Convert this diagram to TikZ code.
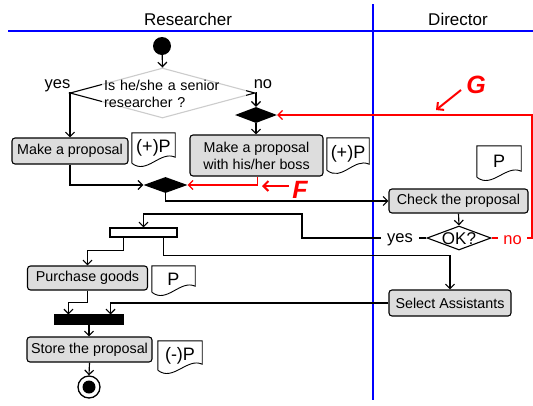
\documentclass[tikz,border=0pt]{standalone}
\usepackage{fontspec}
\setmainfont{Liberation Sans}
\usetikzlibrary{arrows.meta,shapes.geometric,calc}
\definecolor{boxgray}{RGB}{221,221,221}
\definecolor{pureblue}{RGB}{0,0,255}
\definecolor{purered}{RGB}{255,0,0}
\tikzset{
 conn/.style={line width=1.15pt, -{Straight Barb[length=4.5pt,width=9pt]}},
 plainline/.style={line width=1.15pt},
 redconn/.style={line width=1.15pt, draw=purered, -{Straight Barb[length=4.5pt,width=9pt]}},
 redline/.style={line width=1.15pt, draw=purered},
 notearrow/.style={line width=2pt, draw=purered, -{Straight Barb[length=5pt,width=10pt]}},
 act/.style={draw, line width=1.1pt, fill=boxgray, rounded corners=3pt, inner sep=0pt, font=\fontsize{14.3}{17}\selectfont, align=center},
 docnode/.style={inner sep=0pt, font=\fontsize{18}{20}\selectfont},
 docline/.style={draw, line width=0.9pt},
 lab/.style={font=\fontsize{16.5}{18}\selectfont},
 head/.style={font=\fontsize{17}{19}\selectfont},
 big/.style={font=\fontsize{25}{28}\selectfont\bfseries\itshape, text=purered},
 lane/.style={draw=pureblue, line width=2pt},
 blackdia/.style={diamond, fill=black, inner sep=0pt},
 bar/.style={draw, line width=1.1pt, inner sep=0pt},
}
\newcommand\drawdocshape[1]{%
 \draw[docline] (#1.south west) -- (#1.north west) -- (#1.north east) -- ($(#1.south east)+(0,-6)$)
  .. controls ($(#1.south east)+(-15,-13)$) and ($(#1.south west)+(15,12)$) .. (#1.south west);}
\begin{document}
\begin{tikzpicture}[x=1pt,y=-1pt]
\useasboundingbox (0,0) rectangle (533,405);
% lanes
\draw[lane] (8,31) -- (533,31);
\draw[lane] (373,4) -- (373,400);
\node[head, anchor=base] (hr) at (188,25) {Researcher};
\node[head, anchor=base] (hd) at (458,25) {Director};

% start
\node[circle, fill=black, minimum size=18, inner sep=0pt] (start) at (162,46) {};
% decision
\node[diamond, draw, line width=1.1pt, minimum width=185, minimum height=50, inner sep=0pt] (dec) at (162.5,93) {};
\node[anchor=west, fill=white, fill opacity=0.8, text opacity=1, text width=140, align=left, inner sep=2pt, minimum height=52, font=\fontsize{14.3}{17.5}\selectfont] (dectext) at (102,94) {Is he/she a senior\\researcher ?};
\node[lab, anchor=base] (yes1) at (57.5,88) {yes};
\node[lab, anchor=base] (no1) at (263,88) {no};

% merge diamonds
\node[blackdia, minimum width=42, minimum height=16] (m1) at (256,115) {};
\node[blackdia, minimum width=44, minimum height=16] (m2) at (165.5,185) {};

% activities
\node[act, minimum width=116, minimum height=26] (b1) at (70,151) {Make a proposal};
\node[act, minimum width=133, minimum height=41] (b2) at (256.5,155.5) {Make a proposal\\with his/her boss};
\node[act, minimum width=139, minimum height=24] (b3) at (458.5,201) {Check the proposal};
\node[act, minimum width=120, minimum height=24] (b4) at (87.5,278) {Purchase goods};
\node[act, minimum width=122, minimum height=26] (b5) at (450,303) {Select Assistants};
\node[act, minimum width=125, minimum height=25] (b6) at (89.5,349.5) {Store the proposal};

% documents
\node[docnode, minimum width=43, minimum height=30] (d1) at (153.5,148) {(+)P};
\node[docnode, minimum width=42, minimum height=32] (d2) at (348,154) {(+)P};
\node[docnode, minimum width=44, minimum height=31] (d3) at (499,161.5) {P};
\node[docnode, minimum width=43, minimum height=26] (d4) at (173.5,279) {P};
\node[docnode, minimum width=44, minimum height=29] (d5) at (180,355.5) {(-)P};
\foreach \d in {d1,d2,d3,d4,d5} {\drawdocshape{\d}}

% OK decision
\node[diamond, draw, line width=1.1pt, minimum width=64, minimum height=24, inner sep=0pt] (ok) at (459,238) {};
\node[font=\fontsize{17}{19}\selectfont, inner sep=0pt] (oktext) at (459,238.5) {OK?};
\node[lab, inner sep=6pt] (yes2) at (400,240) {yes};
\node[lab, inner sep=5pt, text=purered] (no2) at (512.5,240) {no};

% bars
\node[bar, fill=white, minimum width=67, minimum height=9] (fork) at (143.5,232.5) {};
\node[bar, fill=black, minimum width=68, minimum height=9] (join) at (89,319.5) {};

% end
\node[circle, draw, line width=1.3pt, minimum size=22, inner sep=0pt] (end) at (89,387) {};
\node[circle, fill=black, minimum size=13, inner sep=0pt] (endin) at (89,387) {};

% connectors
\draw[conn] (start) -- (dec.north);
\draw[conn] (dec.west) -| (b1.north);
\draw[conn] (dec.east) -| (m1.north);
\draw[conn] (m1.south) -- (m1.south |- b2.north);
\draw[conn] (b1.south) |- (m2.west);
\draw[redconn] ($(b2.south)+(1,0)$) |- (m2.east);
\draw[conn] (m2.south) |- (b3.west);
\draw[conn] (b3.south) -- (ok.north);
\coordinate (c1) at (302,214);
\draw[plainline] (ok.west) -- (ok.west -| yes2.east);
\draw[conn] (ok.west -| yes2.west) -| (c1) -| (fork.north);
\coordinate (r1) at (532,115);
\draw[redline] (ok.east) -- (ok.east -| no2.west);
\draw[redconn] (ok.east -| no2.east) -| (r1) -- (m1.east);
\draw[conn] ($(fork.south west)+(14,0)$) -- ++(0,13) -| (b4.north);
\draw[conn] ($(fork.south east)+(-14,0)$) -- ++(0,18) -| (b5.north);
\draw[conn] (b4.south) -- ++(0,12) -| ($(join.north west)+(14,0)$);
\draw[conn] (b5.west) -| ($(join.north east)+(-13,0)$);
\draw[conn] (join.south) -- (join.south |- b6.north);
\draw[conn] (b6.south) -- (end.north);

% annotations
\node[big, anchor=base] (flab) at (300,198) {F};
\node[big, anchor=base] (glab) at (476,93) {G};
\coordinate (ft) at (289,186);
\coordinate (fh) at (262,186);
\coordinate (gt) at (461,90);
\coordinate (gh) at (436,110);
\draw[notearrow] (ft) -- (fh);
\draw[notearrow] (gt) -- (gh);
\end{tikzpicture}
\end{document}
